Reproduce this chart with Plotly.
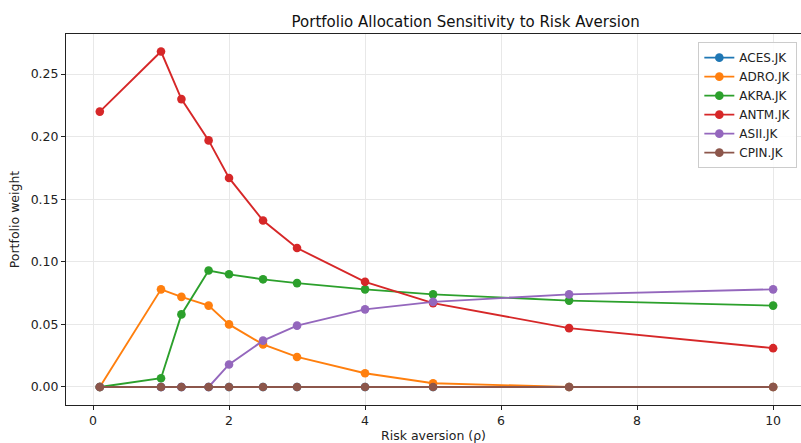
import plotly.graph_objects as go

rho = [0.1, 1, 1.3, 1.7, 2, 2.5, 3, 4, 5, 7, 10]
aces = [0, 0, 0, 0, 0, 0, 0, 0, 0, 0, 0]
adro = [0, 0.078, 0.072, 0.065, 0.050, 0.034, 0.024, 0.011, 0.003, 0, 0]
akra = [0, 0.007, 0.058, 0.093, 0.090, 0.086, 0.083, 0.078, 0.074, 0.069, 0.065]
antm = [0.220, 0.268, 0.230, 0.197, 0.167, 0.133, 0.111, 0.084, 0.067, 0.047, 0.031]
asii = [0, 0, 0, 0, 0.018, 0.037, 0.049, 0.062, 0.068, 0.074, 0.078]
cpin = [0, 0, 0, 0, 0, 0, 0, 0, 0, 0, 0]

series = [
    ("ACES.JK", aces, "#1f77b4"),
    ("ADRO.JK", adro, "#ff7f0e"),
    ("AKRA.JK", akra, "#2ca02c"),
    ("ANTM.JK", antm, "#d62728"),
    ("ASII.JK", asii, "#9467bd"),
    ("CPIN.JK", cpin, "#8c564b"),
]

fig = go.Figure()
for name, vals, col in series:
    fig.add_trace(go.Scatter(
        x=rho, y=vals, name=name, mode="lines+markers",
        line=dict(color=col, width=1.9),
        marker=dict(color=col, size=8.6),
    ))

font = "DejaVu Sans, sans-serif"
fig.update_layout(
    width=801, height=443,
    margin=dict(l=66, r=0, t=34, b=38),
    paper_bgcolor="white", plot_bgcolor="white",
    font=dict(family=font, size=12, color="#222"),
    title=dict(text="Portfolio Allocation Sensitivity to Risk Aversion",
               x=0.5437, xanchor="center", xref="paper",
               y=1 - 21.5 / 443, yanchor="middle", yref="container",
               font=dict(size=15, color="#111")),
    showlegend=True,
    legend=dict(x=0.995, xanchor="right", y=0.978, yanchor="top",
                bgcolor="rgba(255,255,255,0.85)", bordercolor="#cccccc",
                borderwidth=1, font=dict(size=12), tracegroupgap=0,
                itemwidth=30),
)
fig.update_xaxes(
    range=[-0.397, 10.41], tickvals=[0, 2, 4, 6, 8, 10],
    showgrid=True, gridcolor="#e8e8e8", gridwidth=1,
    showline=True, linecolor="#222", linewidth=1, mirror=True,
    ticks="outside", ticklen=4, tickcolor="#222",
    zeroline=False, automargin=False, tickfont=dict(size=12.5),
    title=dict(text="Risk aversion (ρ)", font=dict(size=12.5), standoff=4),
)
fig.update_yaxes(
    range=[-0.0144, 0.282], tickvals=[0, 0.05, 0.10, 0.15, 0.20, 0.25],
    tickformat=".2f",
    showgrid=True, gridcolor="#e8e8e8", gridwidth=1,
    showline=True, linecolor="#222", linewidth=1,
    ticks="outside", ticklen=4, tickcolor="#222",
    zeroline=False, automargin=False, tickfont=dict(size=12.5),
    title=dict(text="Portfolio weight", font=dict(size=12.5), standoff=8),
)

fig.write_html("out.html", config={"displayModeBar": False},
               post_script="document.body.style.margin='0';document.body.style.overflow='hidden';")
